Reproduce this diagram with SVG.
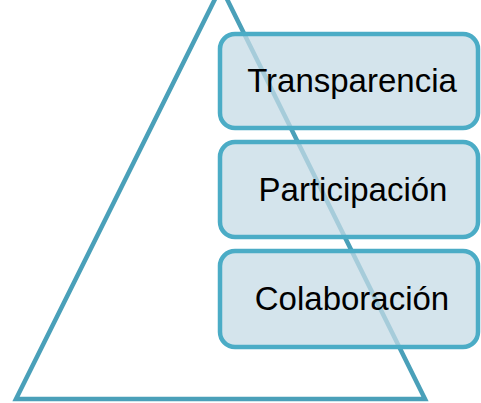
<svg xmlns="http://www.w3.org/2000/svg" width="481" height="403" viewBox="0 0 481 403">
  <style>
    .tri { fill: none; stroke: #4AA0B9; stroke-width: 4.5; stroke-linejoin: miter; }
    .box { fill: #C6DBE6; fill-opacity: 0.75; stroke: #4BACC6; stroke-width: 4.5; }
    .lbl { font-family: "Liberation Sans", Arial, sans-serif; font-size: 33px; fill: #000000; text-anchor: middle; }
  </style>
  <rect width="481" height="403" fill="#FFFFFF"/>
  <g id="pyramid">
    <polygon class="tri" points="221,-13 425,399 16,399"/>
  </g>
  <g id="connectors"></g>
  <g id="node-transparencia">
    <rect class="box" x="220" y="34" width="258" height="94" rx="15" ry="15"/>
    <text class="lbl" x="352" y="92">Transparencia</text>
  </g>
  <g id="node-participacion">
    <rect class="box" x="220" y="142" width="258" height="95" rx="15" ry="15"/>
    <text class="lbl" x="353" y="201">Participación</text>
  </g>
  <g id="node-colaboracion">
    <rect class="box" x="220" y="251" width="258" height="96" rx="15" ry="15"/>
    <text class="lbl" x="352" y="310">Colaboración</text>
  </g>
</svg>
